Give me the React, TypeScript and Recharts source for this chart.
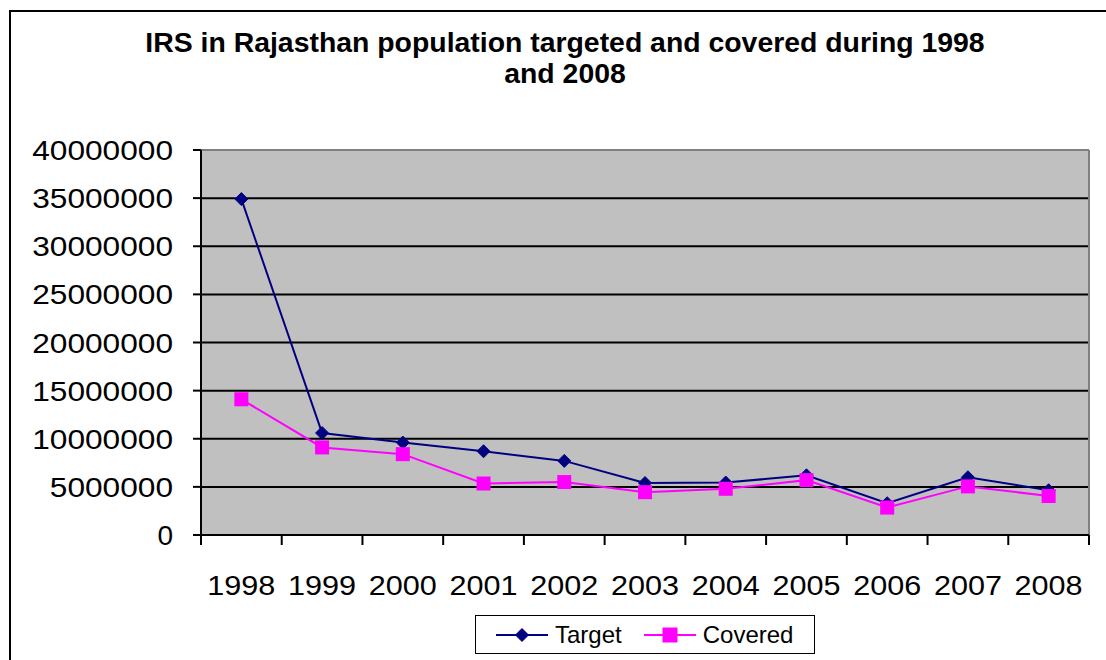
import {
  LineChart,
  Line,
  CartesianGrid,
  XAxis,
  YAxis,
  Legend,
  ReferenceLine,
} from 'recharts';

const years = ['1998', '1999', '2000', '2001', '2002', '2003', '2004', '2005', '2006', '2007', '2008'];
const target = [34900000, 10600000, 9600000, 8700000, 7700000, 5400000, 5450000, 6200000, 3300000, 6000000, 4650000];
const covered = [14100000, 9100000, 8400000, 5350000, 5500000, 4450000, 4800000, 5700000, 2850000, 5050000, 4050000];
const yTicks = [0, 5000000, 10000000, 15000000, 20000000, 25000000, 30000000, 35000000, 40000000];
const seriesOrder = ['target', 'covered'];

const data = years.map((year, i) => ({ year, target: target[i], covered: covered[i] }));

const FONT = 'Arial, "Liberation Sans", sans-serif';
const NAVY = '#000080';
const MAGENTA = '#FF00FF';

// the image is slightly stretched sideways, so digits are set a bit wider than the font
const DIGIT_W = 17.6;

const Diamond = ({ cx, cy, r = 6.5 }: { cx: number; cy: number; r?: number }) => (
  <polygon
    points={`${cx},${cy - r} ${cx + r},${cy} ${cx},${cy + r} ${cx - r},${cy}`}
    fill={NAVY}
    stroke={NAVY}
  />
);

const Square = ({ cx, cy, s = 14 }: { cx: number; cy: number; s?: number }) => (
  <rect x={cx - s / 2} y={cy - s / 2} width={s} height={s} fill={MAGENTA} />
);

const YTick = (props: any) => {
  const { x, y, payload } = props;
  const label = String(payload.value);
  const stretch =
    label.length > 1 ? { textLength: label.length * DIGIT_W, lengthAdjust: 'spacingAndGlyphs' as const } : {};
  return (
    <text x={x} y={y} dy={10} textAnchor="end" fontFamily={FONT} fontSize={28} fill="#000" {...stretch}>
      {label}
    </text>
  );
};

const XTick = (props: any) => {
  const { x, y, payload, index, width } = props;
  const half = width / years.length / 2;
  const last = index === years.length - 1;
  return (
    <g>
      <line x1={x - half} x2={x - half} y1={y} y2={y + 10} stroke="#000" strokeWidth={2} />
      {last && <line x1={x + half} x2={x + half} y1={y} y2={y + 10} stroke="#000" strokeWidth={2} />}
      <text
        x={x}
        y={y + 60}
        textAnchor="middle"
        fontFamily={FONT}
        fontSize={28}
        fill="#000"
        textLength={payload.value.length * 17}
        lengthAdjust="spacingAndGlyphs"
      >
        {payload.value}
      </text>
    </g>
  );
};

const LegendBox = (props: any) => {
  const items = [...(props.payload || [])].sort(
    (a: any, b: any) => seriesOrder.indexOf(a.dataKey) - seriesOrder.indexOf(b.dataKey)
  );
  return (
    <div
      style={{
        width: 340,
        height: 39,
        boxSizing: 'border-box',
        border: '1.5px solid #000',
        background: '#fff',
        display: 'flex',
        alignItems: 'center',
        paddingLeft: 20,
        fontFamily: FONT,
        fontSize: 24,
        color: '#000',
      }}
    >
      {items.map((it: any) => (
        <div key={it.value} style={{ display: 'flex', alignItems: 'center', marginRight: 22 }}>
          <svg width={52} height={20} style={{ marginRight: 7 }}>
            <line x1={0} x2={52} y1={10} y2={10} stroke={it.color} strokeWidth={2} />
            {it.dataKey === 'target' ? <Diamond cx={26} cy={10} /> : <Square cx={26} cy={10} s={15} />}
          </svg>
          <span>{it.value}</span>
        </div>
      ))}
    </div>
  );
};

export default function App() {
  return (
    <div
      style={{
        position: 'fixed',
        left: 0,
        top: 0,
        width: 1106,
        height: 660,
        overflow: 'hidden',
        background: '#fff',
      }}
    >
      <div
        style={{
          position: 'absolute',
          left: 9,
          top: 10,
          width: 1120,
          height: 700,
          border: '2px solid #000',
        }}
      />
      <div
        style={{
          position: 'absolute',
          left: 0,
          top: 27,
          width: 1130,
          textAlign: 'center',
          fontFamily: FONT,
          fontWeight: 'bold',
          fontSize: 28.4,
          lineHeight: '31px',
          color: '#000',
        }}
      >
        IRS in Rajasthan population targeted and covered during 1998
        <br />
        and 2008
      </div>
      <LineChart
        width={1106}
        height={660}
        data={data}
        margin={{ top: 150, right: 17, left: 0, bottom: 0 }}
        style={{ position: 'absolute', left: 0, top: 0 }}
      >
        <CartesianGrid vertical={false} stroke="#000" strokeWidth={2} fill="#C0C0C0" fillOpacity={1} />
        <CartesianGrid
          horizontal={false}
          stroke="#808080"
          strokeWidth={2}
          verticalCoordinatesGenerator={({ offset }: any) => [offset.left + offset.width]}
        />
        <ReferenceLine y={40000000} stroke="#808080" strokeWidth={2} />
        <XAxis
          dataKey="year"
          scale="band"
          height={125}
          tickSize={0}
          tickMargin={0}
          tickLine={false}
          axisLine={{ stroke: '#000', strokeWidth: 2 }}
          interval={0}
          tick={<XTick />}
        />
        <YAxis
          width={201}
          domain={[0, 40000000]}
          ticks={yTicks}
          interval={0}
          tickSize={8}
          tickMargin={20}
          tickLine={{ stroke: '#000', strokeWidth: 2 }}
          axisLine={{ stroke: '#000', strokeWidth: 2 }}
          tick={<YTick />}
        />
        <Legend
          layout="horizontal"
          verticalAlign="middle"
          align="center"
          content={<LegendBox />}
          wrapperStyle={{ left: 475, top: 615, width: 340, height: 39 }}
        />
        <Line
          type="linear"
          dataKey="target"
          name="Target"
          stroke={NAVY}
          strokeWidth={2}
          isAnimationActive={false}
          activeDot={false}
          dot={(p: any) => <Diamond key={`t${p.index}`} cx={p.cx} cy={p.cy} />}
        />
        <Line
          type="linear"
          dataKey="covered"
          name="Covered"
          stroke={MAGENTA}
          strokeWidth={2}
          isAnimationActive={false}
          activeDot={false}
          dot={(p: any) => <Square key={`c${p.index}`} cx={p.cx} cy={p.cy} />}
        />
      </LineChart>
    </div>
  );
}
